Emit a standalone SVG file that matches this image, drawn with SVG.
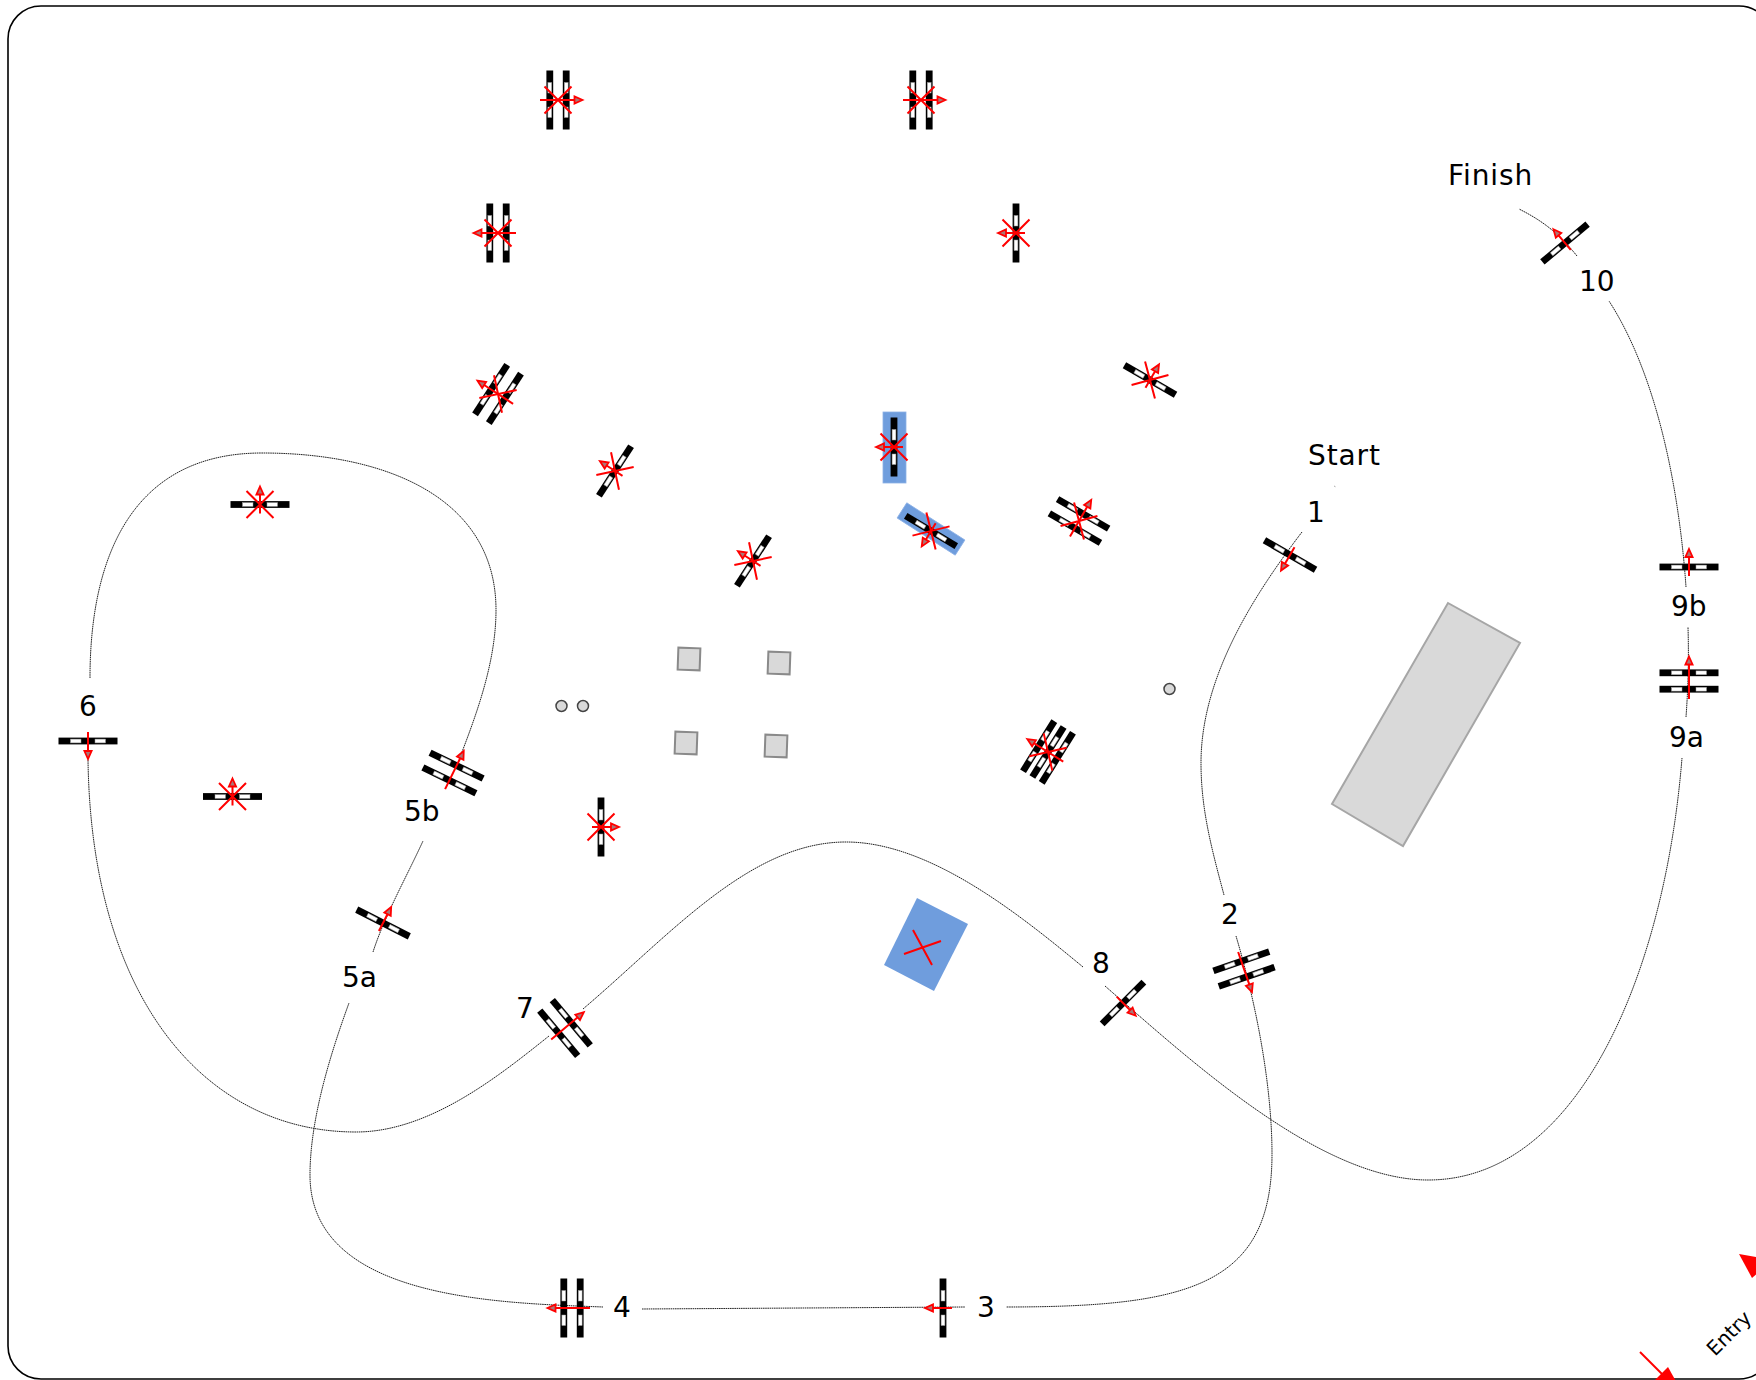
<svg xmlns="http://www.w3.org/2000/svg" width="1756" height="1380" viewBox="0 0 1756 1380">
<style>
.lbl{font-family:"DejaVu Sans",Verdana,sans-serif;font-size:28px;fill:#000}
.wide{letter-spacing:.9px}
.c{fill:none;stroke:#222;stroke-width:1;stroke-dasharray:1.6 .6}
.red{stroke:#f00;stroke-width:2;fill:none}
.blue{fill:#6f9ddd;stroke:#8db1e6;stroke-width:.8}
.gray{fill:#d9d9d9;stroke:#8a8a8a;stroke-width:2}
.dot{fill:#d9d9d9;stroke:#444;stroke-width:1.5}
</style>
<defs>
<g id="bar">
<rect x="-29.5" y="-3.400" width="59" height="6.800" fill="#000"/>
<rect x="-17.5" y="-1.900" width="10.5" height="3.800" fill="#fff" stroke="#999" stroke-width=".5"/>
<rect x="7" y="-1.900" width="10.5" height="3.800" fill="#fff" stroke="#999" stroke-width=".5"/>
</g>
<g id="xm"><path class="red" d="M-13.5 -13.5L13.5 13.5M-13.5 13.5L13.5 -13.5"/></g>
<g id="arr"><path class="red" d="M0 9V-11"/><path d="M0 -18L3.600 -10H-3.600Z" fill="#a77" stroke="#f00" stroke-width="1.800"/></g>
<g id="arr2"><path class="red" d="M0 18V-17"/><path d="M0 -24.500L3.600 -16.500H-3.600Z" fill="#a77" stroke="#f00" stroke-width="1.800"/></g>
<g id="g1"><use href="#bar"/><use href="#arr"/></g>
<g id="g2"><use href="#bar" y="-8.2"/><use href="#bar" y="8.2"/><use href="#arr2"/></g>
</defs>
<rect id="frame" x="8" y="6" width="1764" height="1373" rx="33" fill="#fff" stroke="#000" stroke-width="1.6"/>
<polygon id="bigbox" class="gray" style="stroke:#a6a6a6" points="1448,603 1520,643 1403,846 1332,804"/>
<polygon id="bluebox" class="blue" style="stroke:none" points="917,898 968,924 934,991 884,965"/>
<path id="bluex" class="red" d="M913 930L932 965M904 954L941 941"/>
<g id="blocks">
<rect class="gray" x="678" y="648" width="22" height="22" transform="rotate(2 689 659)"/>
<rect class="gray" x="768" y="652" width="22" height="22" transform="rotate(2 779 663)"/>
<rect class="gray" x="675" y="732" width="22" height="22" transform="rotate(2 686 743)"/>
<rect class="gray" x="765" y="735" width="22" height="22" transform="rotate(2 776 746)"/>
<circle class="dot" cx="561.500" cy="706" r="5.500"/>
<circle class="dot" cx="583" cy="706" r="5.500"/>
<circle class="dot" cx="1169.500" cy="689" r="5.500"/>
</g>
<g id="connectors">
<path class="c" d="M1302 532C1250 600 1201 680 1201 763C1201 810 1212 850 1224 895"/>
<path class="c" d="M1236 936C1258 1010 1272 1090 1272 1154C1272 1285 1190 1307 1006 1307"/>
<path class="c" d="M642 1309L965 1307"/>
<path class="c" d="M603 1307C500 1303 310 1300 310 1175C310 1120 330 1055 349 1003"/>
<path class="c" d="M373 952C385 915 405 880 423 841"/>
<path class="c" d="M462 752C478 710 496 660 496 610C496 500 390 453 262 453C130 453 90 560 90 678"/>
<path class="c" d="M88 740C85 990 200 1132 356 1132C430 1132 500 1075 549 1036"/>
<path class="c" d="M583 1009C670 935 750 842 846 842C930 842 1020 915 1083 967"/>
<path class="c" d="M1105 986C1190 1060 1320 1180 1428 1180C1580 1180 1665 970 1682 758"/>
<path class="c" d="M1686 717C1688 690 1689 660 1688 627"/>
<path class="c" d="M1686 587C1680 500 1660 380 1609 301"/>
<path class="c" d="M1577 256C1560 235 1545 222 1519 209"/>
<path class="c" d="M1334 486L1336 487" style="stroke:#aaa"/>
</g>
<g id="n-top1" transform="translate(558 100) rotate(90)"><use href="#g2"/><use href="#xm"/></g>
<g id="n-top2" transform="translate(921 100) rotate(90)"><use href="#g2"/><use href="#xm"/></g>
<g id="n-a" transform="translate(498 233) rotate(-90)"><use href="#g2"/><use href="#xm"/></g>
<g id="n-b" transform="translate(1016 233) rotate(-90)"><use href="#g1"/><use href="#xm"/></g>
<g id="n-c" transform="translate(498 394) rotate(-57)"><use href="#g2"/><use href="#xm"/></g>
<g id="n-d" transform="translate(1150 380) rotate(30)"><use href="#g1"/><use href="#xm"/></g>
<g id="n-e" transform="translate(615 471) rotate(-57)"><use href="#g1"/><use href="#xm"/></g>
<g id="n-f" transform="translate(260 504.500)"><use href="#g1"/><use href="#xm"/></g>
<g id="n-g" transform="translate(232.500 796.500)"><use href="#g1"/><use href="#xm"/></g>
<g id="n-h" transform="translate(753 561) rotate(-57)"><use href="#g1"/><use href="#xm"/></g>
<g id="n-i"><rect class="blue" x="883" y="412" width="23" height="71"/><g transform="translate(894 447) rotate(-90)"><use href="#g1"/><use href="#xm"/></g></g>
<g id="n-j"><rect class="blue" x="896.500" y="520" width="69" height="18" transform="rotate(32.600 931 529)"/><g transform="translate(931 531) rotate(211)"><use href="#g1"/><use href="#xm"/></g></g>
<g id="n-k" transform="translate(1079 521) rotate(30)"><use href="#g2"/><use href="#xm"/></g>
<g id="n-l" transform="translate(601 827) rotate(90)"><use href="#g1"/><use href="#xm"/></g>
<g id="n-m" transform="translate(1048 752) rotate(-58)"><use href="#bar" y="-11"/><use href="#bar"/><use href="#bar" y="11"/><use href="#arr2"/><use href="#xm"/></g>
<g id="n-1" transform="translate(1290 555) rotate(210)"><use href="#g1"/></g>
<g id="n-2" transform="translate(1244 969) rotate(161)"><use href="#g2"/></g>
<g id="n-3" transform="translate(943 1308) rotate(-90)"><use href="#g1"/></g>
<g id="n-4" transform="translate(572 1308) rotate(-90)"><use href="#g2"/></g>
<g id="n-5a" transform="translate(383 923) rotate(27)"><use href="#g1"/></g>
<g id="n-5b" transform="translate(453 773) rotate(26)"><use href="#g2"/></g>
<g id="n-6" transform="translate(88 741) rotate(180)"><use href="#g1"/></g>
<g id="n-7" transform="translate(565 1028) rotate(50)"><use href="#g2"/></g>
<g id="n-8" transform="translate(1123 1003) rotate(135)"><use href="#g1"/></g>
<g id="n-9a" transform="translate(1689 681)"><use href="#g2"/></g>
<g id="n-9b" transform="translate(1689 567)"><use href="#g1"/></g>
<g id="n-10" transform="translate(1565 243) rotate(-40)"><use href="#g1"/></g>
<g id="labels">
<text class="lbl wide" x="1448" y="185">Finish</text>
<text class="lbl wide" x="1308" y="465">Start</text>
<text class="lbl" x="1307" y="522">1</text>
<text class="lbl" x="1579" y="291">10</text>
<text class="lbl" x="1671" y="616">9b</text>
<text class="lbl" x="1669" y="747">9a</text>
<text class="lbl" x="1221" y="924">2</text>
<text class="lbl" x="1092" y="973">8</text>
<text class="lbl" x="516" y="1018">7</text>
<text class="lbl" x="404" y="821">5b</text>
<text class="lbl" x="342" y="987">5a</text>
<text class="lbl" x="79" y="716">6</text>
<text class="lbl" x="613" y="1317">4</text>
<text class="lbl" x="977" y="1317">3</text>
<text class="lbl" style="font-size:20px" transform="translate(1715 1357) rotate(-45)">Entry</text>
</g>
<g id="entry-arrows">
<path class="red" d="M1640 1352L1665 1377"/>
<polygon fill="#f00" points="1668,1367 1650,1385 1683,1394"/>
<polygon fill="#f00" points="1739,1254 1752,1278 1772,1260"/>
</g>
</svg>
